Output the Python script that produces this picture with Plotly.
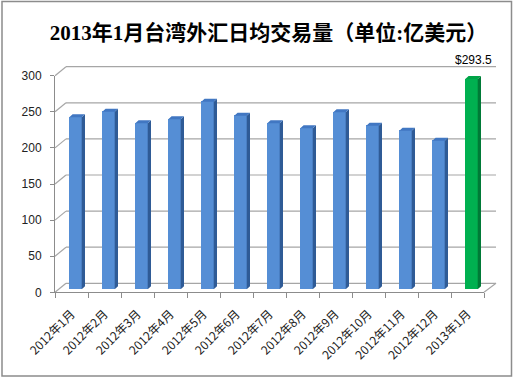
import plotly.graph_objects as go

# ---------------- data ----------------
months = ["2012年1月", "2012年2月", "2012年3月", "2012年4月", "2012年5月", "2012年6月",
          "2012年7月", "2012年8月", "2012年9月", "2012年10月", "2012年11月", "2012年12月",
          "2013年1月"]
volumes = [240.0, 247.9, 231.7, 237.3, 261.8, 242.3, 231.7, 224.7, 247.0, 228.3, 221.4, 207.4, 293.5]
highlight = [False] * 12 + [True]
y_ticks = [0, 50, 100, 150, 200, 250, 300]
title_text = "2013年1月台湾外汇日均交易量（单位:亿美元）"

# ---------------- geometry helpers ----------------
W, H = 515, 379
def fx(p):
    return p / W
def fy(p):
    return 1 - p / H

FRONT_L, FRONT_R = 55, 484          # front x axis
FRONT_Y0, FRONT_Y300 = 292.3, 75.7  # front y axis
BACK_L, BACK_R = 66, 496            # back wall
BACK_Y0 = 283.3
PXU = (FRONT_Y0 - FRONT_Y300) / 300.0
BAR_Y0, BAR_Y300 = 289.3, 74.3

BAR_OFF, BAR_W = -0.067, 0.376
DX, DY = 0.10, 4.19

BLUE = dict(front="#558ED5", side="#2F5B96", top="#4177C2")
GREEN = dict(front="#00B050", side="#007A37", top="#00A347")

xs = list(range(len(months)))

fig = go.Figure()

# invisible trace so the front axes render
fig.add_trace(go.Scatter(x=xs, y=[0] * len(xs), mode="markers", marker=dict(opacity=0),
                         hoverinfo="skip", showlegend=False, xaxis="x", yaxis="y"))

# front faces
fig.add_trace(go.Bar(
    x=xs, y=volumes, width=BAR_W, offset=BAR_OFF,
    marker=dict(color=[GREEN["front"] if h else BLUE["front"] for h in highlight], line=dict(width=0)),
    xaxis="x", yaxis="y3", showlegend=False, hoverinfo="x+y"))

def faces(sel):
    sx, sy, tx, ty = [], [], [], []
    for i, v, h in zip(xs, volumes, highlight):
        if h != sel:
            continue
        l = i + BAR_OFF
        r = l + BAR_W
        sx += [r, r + DX, r + DX, r, r, None]
        sy += [0, DY, v + DY, v, 0, None]
        tx += [l, r, r + DX, l + DX, l, None]
        ty += [v, v, v + DY, v + DY, v, None]
    return sx, sy, tx, ty

for sel, pal in ((False, BLUE), (True, GREEN)):
    sx, sy, tx, ty = faces(sel)
    fig.add_trace(go.Scatter(x=sx, y=sy, mode="lines", fill="toself", fillcolor=pal["side"],
                             line=dict(width=0, color=pal["side"]), xaxis="x", yaxis="y3",
                             hoverinfo="skip", showlegend=False))
    fig.add_trace(go.Scatter(x=tx, y=ty, mode="lines", fill="toself", fillcolor=pal["top"],
                             line=dict(width=0, color=pal["top"]), xaxis="x", yaxis="y3",
                             hoverinfo="skip", showlegend=False))

# back wall gridlines and diagonal connectors
shapes = []
GRID = "#A6A6A6"
for t in y_ticks:
    yb = BACK_Y0 - t * PXU
    yf = FRONT_Y0 - t * PXU
    shapes.append(dict(type="line", xref="paper", yref="paper", x0=fx(BACK_L), x1=fx(BACK_R),
                       y0=fy(yb), y1=fy(yb), line=dict(color=GRID, width=1.2), layer="below"))
    shapes.append(dict(type="line", xref="paper", yref="paper", x0=fx(FRONT_L), x1=fx(BACK_L),
                       y0=fy(yf), y1=fy(yb), line=dict(color=GRID, width=1.2), layer="below"))
# floor right edge
shapes.append(dict(type="line", xref="paper", yref="paper", x0=fx(FRONT_R), x1=fx(BACK_R),
                   y0=fy(FRONT_Y0), y1=fy(BACK_Y0), line=dict(color=GRID, width=1.2), layer="below"))
# outer frame
shapes.append(dict(type="rect", xref="paper", yref="paper", x0=fx(2), x1=fx(511.5),
                   y0=fy(376), y1=fy(1.5), line=dict(color="#8C8C8C", width=1.5), layer="above"))

last = len(volumes) - 1
annotations = [dict(
    x=last + BAR_OFF + BAR_W / 2 + DX / 2, y=volumes[last], xref="x", yref="y3",
    text="$" + str(volumes[last]), showarrow=False, yanchor="bottom", yshift=10,
    font=dict(family="Liberation Sans, Arial", size=12, color="#000000"))]

fig.update_layout(
    width=W, height=H, margin=dict(l=0, r=0, t=0, b=0),
    template="none", paper_bgcolor="white", plot_bgcolor="rgba(0,0,0,0)",
    showlegend=False, bargap=0,
    title=dict(text=title_text, x=fx(268.5), y=fy(33), xanchor="center", yanchor="middle",
               font=dict(family="Liberation Serif, Noto Sans CJK SC", size=21, color="#000000",
                         weight="bold")),
    xaxis=dict(domain=[fx(FRONT_L), fx(FRONT_R)], range=[-0.5, len(months) - 0.5], anchor="y",
               tickmode="array", tickvals=xs, ticktext=months, ticks="", tickangle=-45,
               showline=True, linecolor="#8C8C8C", linewidth=1, showgrid=False, zeroline=False,
               automargin=False, ticklabelstandoff=9,
               tickfont=dict(family="Noto Sans CJK SC, Liberation Sans", size=12, color="#222222"),
               minor=dict(tickmode="array", tickvals=[i - 0.5 for i in range(len(months) + 1)],
                          ticks="outside", ticklen=5, tickcolor="#8C8C8C", showgrid=False)),
    yaxis=dict(domain=[fy(FRONT_Y0), fy(FRONT_Y300)], range=[0, 300], anchor="x",
               tickmode="array", tickvals=y_ticks, ticks="outside", ticklen=4, tickcolor="#8C8C8C",
               showline=True, linecolor="#8C8C8C", linewidth=1, showgrid=False, zeroline=False,
               automargin=False, ticklabelstandoff=6,
               tickfont=dict(family="Liberation Sans, Arial", size=12, color="#222222")),
    yaxis3=dict(domain=[fy(BAR_Y0), fy(BAR_Y300)], range=[0, 300], anchor="x", visible=False,
                showgrid=False, zeroline=False, automargin=False),
    shapes=shapes, annotations=annotations,
)

fig.write_html("out.html", config={"displayModeBar": False},
               post_script="document.body.style.margin='0px';document.body.style.overflow='hidden';")
